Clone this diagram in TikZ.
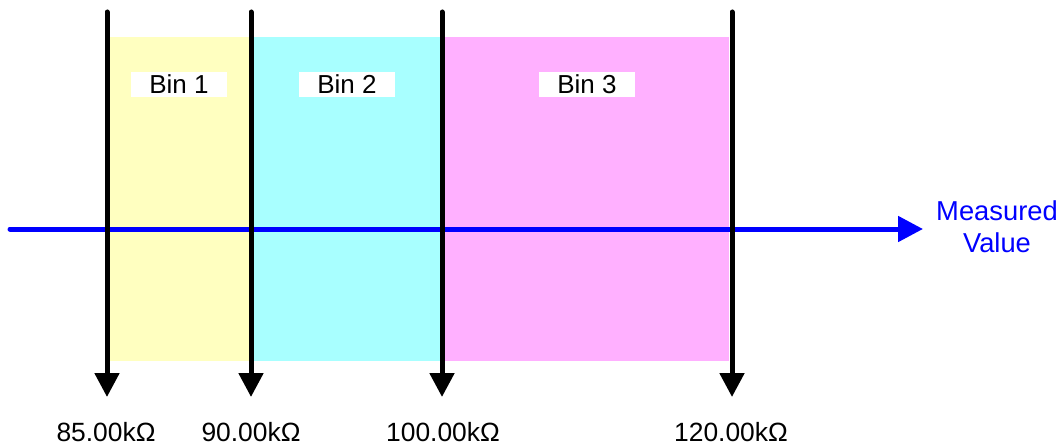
\documentclass[tikz,border=0pt]{standalone}
\usepackage{fontspec}
\setmainfont{Liberation Sans}
\usetikzlibrary{arrows.meta}
\definecolor{binyellow}{HTML}{FFFFC0}
\definecolor{bincyan}{HTML}{A8FFFF}
\definecolor{binmagenta}{HTML}{FFB0FF}
\definecolor{axisblue}{HTML}{0000FF}
\begin{document}
\begin{tikzpicture}[x=0.75pt,y=-0.75pt,
  vline/.style={line width=3.75pt, draw=black, line cap=round, -{Triangle[width=18pt,length=18pt]}},
  axis/.style={line width=3.75pt, draw=axisblue, line cap=round, -{Triangle[width=18.75pt,length=18.75pt]}},
  binlabel/.style={fill=white, inner sep=0pt, minimum width=72pt, minimum height=18.75pt, font=\fontsize{19.5}{23}\selectfont},
  vallabel/.style={anchor=base, inner sep=0pt, font=\fontsize{19.8}{23}\selectfont},
  axislabel/.style={inner sep=0pt, align=center, text=axisblue, font=\fontsize{20.5}{24}\selectfont}]
\useasboundingbox (0,0) rectangle (1062,445);
% bin regions
\fill[binyellow] (110,37) rectangle (250,361);
\fill[bincyan] (250,37) rectangle (442,361);
\fill[binmagenta] (442,37) rectangle (729,361);
% bin labels
\node[binlabel] (bin1) at (179,84.5) {Bin 1};
\node[binlabel] (bin2) at (347,84.5) {Bin 2};
\node[binlabel] (bin3) at (587,84.5) {Bin 3};
% axis
\coordinate (axstart) at (10,229);
\coordinate (axend) at (923,229);
\draw[axis] (axstart) -- (axend);
\node[axislabel] (axlab) at (997,227) {Measured\\Value};
% limit lines
\coordinate (t1) at (107,12); \coordinate (b1) at (107,397);
\coordinate (t2) at (251,12); \coordinate (b2) at (251,397);
\coordinate (t3) at (442,12); \coordinate (b3) at (442,397);
\coordinate (t4) at (732,12); \coordinate (b4) at (732,397);
\draw[vline] (t1) -- (b1);
\draw[vline] (t2) -- (b2);
\draw[vline] (t3) -- (b3);
\draw[vline] (t4) -- (b4);
% limit values
\node[vallabel] (v1) at (106,441) {85.00kΩ};
\node[vallabel] (v2) at (251,441) {90.00kΩ};
\node[vallabel] (v3) at (443,441) {100.00kΩ};
\node[vallabel] (v4) at (731,441) {120.00kΩ};
\end{tikzpicture}
\end{document}
